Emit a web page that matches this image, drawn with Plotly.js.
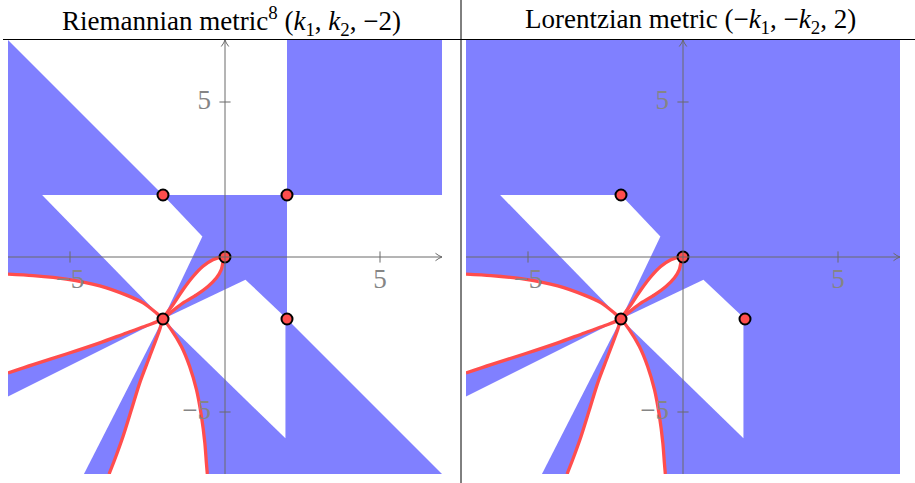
<!DOCTYPE html>
<html>
<head>
<meta charset="utf-8">
<script src="https://cdn.plot.ly/plotly-3.0.1.min.js"></script>
<style>
  html, body { margin: 0; padding: 0; background: #ffffff; }
  #chart { width: 915px; height: 483px; }
</style>
</head>
<body>
<div id="chart"></div>
<script>
// ---- red curve branches (all meet at the node (-2,-2)) ----
const leftBranchX = [-7.0, -6.19, -5.12, -4.04, -3.18, -2.64, -2.21, -2.0];
const leftBranchY = [-0.55, -0.60, -0.71, -0.93, -1.23, -1.48, -1.81, -2.0];
const lowBranchX = [-7.0, -6.19, -5.12, -4.04, -3.18, -2.54, -2.0];
const lowBranchY = [-3.74, -3.47, -3.13, -2.77, -2.45, -2.22, -2.0];
const loopLowerX = [-2.0, -1.78, -1.35, -0.92, -0.55, -0.28, -0.12, -0.06, 0.0];
const loopLowerY = [-2.0, -1.81, -1.48, -1.22, -0.95, -0.68, -0.41, -0.14, 0.0];
const loopUpperX = [0.0, -0.12, -0.39, -0.71, -1.03, -1.35, -1.68, -2.0];
const loopUpperY = [0.0, 0.0, -0.09, -0.30, -0.63, -1.05, -1.54, -2.0];
const downBranchX = [-2.0, -2.11, -2.43, -2.75, -3.02, -3.29, -3.56, -3.74];
const downBranchY = [-2.0, -2.35, -3.21, -4.06, -4.93, -5.79, -6.54, -7.0];
const downRightX = [-2.0, -1.73, -1.41, -1.14, -0.92, -0.76, -0.65, -0.60, -0.57];
const downRightY = [-2.0, -2.35, -2.88, -3.53, -4.28, -5.14, -6.0, -6.65, -7.0];

// ---- polygonal parts of the complement (white) regions ----
const upperBandX = [-7, -2, 2, 2];
const upperBandY = [7, 2, 2, 7];
const rightBandX = [2, 7, 7, 2];
const rightBandY = [2, 2, -7, -2];
const arrowX = [-5.9, -2, -0.73, -2];
const arrowY = [2, 2, 0.66, -2];
const notchX = [-2, 0.66, 1.95, 1.95];
const notchY = [-2, -0.73, -1.95, -5.85];
const cornerX = [-7, -2, -4.55, -7];
const cornerY = [-4.5, -2, -7, -7];

// ---- marked points ----
const riemPtsX = [-2, 2, 0, -2, 2];
const riemPtsY = [2, 2, 0, -2, -2];
const lorPtsX = [-2, 0, -2, 2];
const lorPtsY = [2, 0, -2, -2];

// ---- axis ticks and titles ----
const axisRange = [-7, 7];
const tickVals = [-5, 5];
const tickText = ['\u22125', '5'];
const titles = [
  'Riemannian metric<sup>8</sup> (<i>k</i><sub>1</sub>, <i>k</i><sub>2</sub>, \u22122)',
  'Lorentzian metric (\u2212<i>k</i><sub>1</sub>, \u2212<i>k</i><sub>2</sub>, 2)'
];

const BLUE = '#8080ff';
const RED = '#ff4d4d';
const AXIS = '#6a6a6a';
const LABEL = '#858585';
const SERIF = 'Liberation Serif';
const LABEL_SIZE = 27;
const TITLE_SIZE = 27;
const W = 915, H = 483;

const rev = a => a.slice().reverse();
const cat = (...parts) => [].concat(...parts);

function hole(xs, ys, xa, ya) {
  return {
    x: xs, y: ys, xaxis: xa, yaxis: ya,
    type: 'scatter', mode: 'lines', fill: 'toself',
    fillcolor: '#ffffff', line: {width: 0, color: '#ffffff'},
    hoverinfo: 'skip', showlegend: false
  };
}
function curve(xs, ys, xa, ya) {
  return {
    x: xs, y: ys, xaxis: xa, yaxis: ya,
    type: 'scatter', mode: 'lines',
    line: {color: RED, width: 3.3, shape: 'spline', smoothing: 0.8},
    hoverinfo: 'skip', showlegend: false
  };
}
function points(xs, ys, xa, ya) {
  return {
    x: xs, y: ys, xaxis: xa, yaxis: ya,
    type: 'scatter', mode: 'markers',
    marker: {size: 11, color: RED, line: {color: '#000000', width: 2}},
    hoverinfo: 'skip', showlegend: false
  };
}
// tick labels as text marks placed next to the axis ticks
function tickLabels(xs, ys, pos, xa, ya) {
  return {
    x: xs, y: ys, xaxis: xa, yaxis: ya, text: tickText,
    type: 'scatter', mode: 'text', textposition: pos, cliponaxis: false,
    textfont: {family: SERIF, size: LABEL_SIZE, color: LABEL},
    hoverinfo: 'skip', showlegend: false
  };
}

function panelTraces(xa, ya, withBands, ptsX, ptsY) {
  const t = [];
  if (withBands) {
    t.push(hole(upperBandX, upperBandY, xa, ya));
    t.push(hole(rightBandX, rightBandY, xa, ya));
  }
  t.push(hole(arrowX, arrowY, xa, ya));
  t.push(hole(notchX, notchY, xa, ya));
  t.push(hole(cornerX, cornerY, xa, ya));
  t.push(hole(cat(loopLowerX, loopUpperX), cat(loopLowerY, loopUpperY), xa, ya));
  t.push(hole(cat(leftBranchX, rev(lowBranchX)), cat(leftBranchY, rev(lowBranchY)), xa, ya));
  t.push(hole(cat(downBranchX, rev(downRightX)), cat(downBranchY, rev(downRightY)), xa, ya));
  t.push(curve(cat(leftBranchX, downRightX.slice(1)), cat(leftBranchY, downRightY.slice(1)), xa, ya));
  t.push(curve(cat(lowBranchX, loopLowerX.slice(1)), cat(lowBranchY, loopLowerY.slice(1)), xa, ya));
  t.push(curve(cat(loopUpperX, downBranchX.slice(1)), cat(loopUpperY, downBranchY.slice(1)), xa, ya));
  t.push(points(ptsX, ptsY, xa, ya));
  // x labels sit below the axis, y labels to the left of it
  t.push(tickLabels(tickVals, tickVals.map(() => -0.78), 'middle center', xa, ya));
  t.push(tickLabels(tickVals.map(() => -0.45), tickVals, 'middle left', xa, ya));
  return t;
}

const data = cat(
  panelTraces('x', 'y', true, riemPtsX, riemPtsY),
  panelTraces('x2', 'y2', false, lorPtsX, lorPtsY)
);

// plot boxes in pixels (whole-pixel edges keep the fills crisp)
const boxes = [
  {x0: 8, x1: 442},
  {x0: 466, x1: 900}
];
const yTop = 40, yBot = 474;
const yDom = [(H - yBot) / H, (H - yTop) / H];

function axisCfg(b) {
  return {domain: [b.x0 / W, b.x1 / W], range: axisRange.slice(), visible: false, fixedrange: true};
}

const shapes = [];
const annotations = [];
const lo = axisRange[0], hi = axisRange[1];
const tickHalf = 0.18, headLen = 0.21, headHalf = 0.12;

[['x', 'y'], ['x2', 'y2']].forEach(([xr, yr]) => {
  const line = (x0, y0, x1, y1) => ({type: 'line', xref: xr, yref: yr, x0, y0, x1, y1,
    layer: 'above', line: {color: AXIS, width: 1}});
  shapes.push(line(lo, 0, hi, 0));
  shapes.push(line(0, lo, 0, hi));
  shapes.push({type: 'path', xref: xr, yref: yr, layer: 'above',
    path: `M ${hi - headLen},${headHalf} Q ${hi - headLen * 0.45},${headHalf * 0.25} ${hi},0 Q ${hi - headLen * 0.45},${-headHalf * 0.25} ${hi - headLen},${-headHalf}`,
    line: {color: AXIS, width: 1}});
  shapes.push({type: 'path', xref: xr, yref: yr, layer: 'above',
    path: `M ${-headHalf},${hi - headLen} Q ${-headHalf * 0.25},${hi - headLen * 0.45} 0,${hi} Q ${headHalf * 0.25},${hi - headLen * 0.45} ${headHalf},${hi - headLen}`,
    line: {color: AXIS, width: 1}});
  tickVals.forEach(v => {
    shapes.push(line(v, -tickHalf, v, tickHalf));
    shapes.push(line(-tickHalf, v, tickHalf, v));
  });
});

// table-style rules
shapes.push({type: 'line', xref: 'paper', yref: 'paper', x0: 3 / W, x1: 1, y0: (H - 39.5) / H, y1: (H - 39.5) / H,
  line: {color: '#000000', width: 1}, layer: 'above'});
shapes.push({type: 'line', xref: 'paper', yref: 'paper', x0: 461 / W, x1: 461 / W, y0: 0, y1: 1,
  line: {color: '#000000', width: 1}, layer: 'above'});

const titleCenters = [231.5, 690];
titles.forEach((txt, i) => {
  annotations.push({xref: 'paper', yref: 'paper', x: titleCenters[i] / W, y: (H - 21) / H,
    text: txt, showarrow: false, xanchor: 'center', yanchor: 'middle',
    font: {family: SERIF, size: TITLE_SIZE, color: '#000000'}});
});

const layout = {
  width: W, height: H,
  font: {family: SERIF, size: LABEL_SIZE, color: '#000000'},
  margin: {l: 0, r: 0, t: 0, b: 0, pad: 0},
  paper_bgcolor: '#ffffff',
  plot_bgcolor: BLUE,
  showlegend: false,
  xaxis: Object.assign(axisCfg(boxes[0]), {anchor: 'y'}),
  yaxis: Object.assign({domain: yDom, range: axisRange.slice(), visible: false, fixedrange: true}, {anchor: 'x'}),
  xaxis2: Object.assign(axisCfg(boxes[1]), {anchor: 'y2'}),
  yaxis2: Object.assign({domain: yDom, range: axisRange.slice(), visible: false, fixedrange: true}, {anchor: 'x2'}),
  shapes: shapes,
  annotations: annotations
};

Plotly.newPlot('chart', data, layout, {displayModeBar: false});
</script>
</body>
</html>
